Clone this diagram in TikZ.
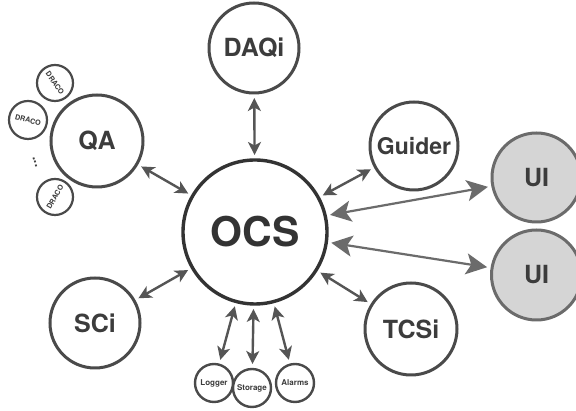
\documentclass[tikz,border=0pt]{standalone}
\usepackage{fontspec}
\setmainfont{TeX Gyre Heros}
\usetikzlibrary{arrows.meta}
\definecolor{ring}{HTML}{4A4A4A}
\definecolor{ocsring}{HTML}{333333}
\definecolor{arrowc}{HTML}{555555}
\definecolor{uiring}{HTML}{6B6B6B}
\definecolor{uifill}{HTML}{D5D5D5}
\definecolor{txt}{HTML}{3C3C3C}
\tikzset{
  bub/.style={circle, draw=ring, line width=3pt, inner sep=0pt, outer sep=0pt,
    text=txt, font=\bfseries\fontsize{25}{25}\selectfont},
  ocsbub/.style={bub, draw=ocsring, line width=3.4pt, text=ocsring,
    font=\bfseries\fontsize{41}{41}\selectfont, minimum size=144pt},
  uibub/.style={bub, draw=uiring, fill=uifill, minimum size=89pt},
  small/.style={circle, draw=ring, line width=2.4pt, inner sep=0pt, outer sep=0pt,
    text=txt, minimum size=38pt, font=\bfseries\fontsize{8}{8}\selectfont},
  draco/.style={small, line width=2.2pt, minimum size=36pt, font=\bfseries\fontsize{7.2}{7.2}\selectfont},
  arr/.style={draw=arrowc, line width=2.4pt,
    {Stealth[length=13pt,width=13pt,inset=3.5pt]}-{Stealth[length=13pt,width=13pt,inset=3.5pt]},
    shorten <=5pt, shorten >=5pt},
  uiarr/.style={draw=uiring, line width=2.2pt,
    {Stealth[length=21pt,width=21pt,inset=5pt]}-{Stealth[length=21pt,width=21pt,inset=5pt]},
    shorten <=5pt, shorten >=5pt},
}
\begin{document}
\begin{tikzpicture}[x=1pt,y=1pt]
\useasboundingbox (0,0) rectangle (576,411);
\clip (0,0) rectangle (576,411);
\fill[white] (0,0) rectangle (576,411);
% main nodes
\node[ocsbub] (OCS) at (255,179) {OCS};
\node[bub, minimum size=90pt] (DAQi) at (254,363) {DAQi};
\node[bub, minimum size=92pt] (QA) at (97,270) {QA};
\node[bub, minimum size=88pt, font=\bfseries\fontsize{23}{23}\selectfont] (Guider) at (414,265) {Guider};
\node[bub, minimum size=90pt] (SCi) at (95,88) {SCi};
\node[bub, minimum size=92pt] (TCSi) at (411,82) {TCSi};
\node[uibub] (UI1) at (536.5,233.5) {UI};
\node[uibub, minimum size=90pt] (UI2) at (536.5,136) {UI};
% small nodes
\node[small] (Logger) at (214,28) {Logger};
\node[small] (Storage) at (252,23) {\raisebox{-2pt}{Storage}};
\node[small] (Alarms) at (295,28) {Alarms};
\node[draco] (D1) at (55,328) {\rotatebox{-55}{DRACO}};
\node[draco, minimum size=38pt] (D2) at (28,291) {\rotatebox{-15}{DRACO}};
\node[draco] (D3) at (55,214) {\rotatebox{60}{DRACO}};
\node[text=txt, inner sep=0pt, font=\bfseries\fontsize{13}{13}\selectfont, rotate=-72] (dots) at (35,249) {...};
% connectors
\draw[arr] (DAQi) -- (OCS);
\draw[arr] (QA) -- (OCS);
\draw[arr] (Guider) -- (OCS);
\draw[arr] (SCi) -- (OCS);
\draw[arr] (TCSi) -- (OCS);
\draw[arr] (Logger) -- (OCS);
\draw[arr] (Storage) -- (OCS);
\draw[arr] (Alarms) -- (OCS);
\draw[uiarr] (OCS.13) -- (UI1.191);
\draw[uiarr] (OCS.-8) -- (UI2.171);
\end{tikzpicture}
\end{document}
